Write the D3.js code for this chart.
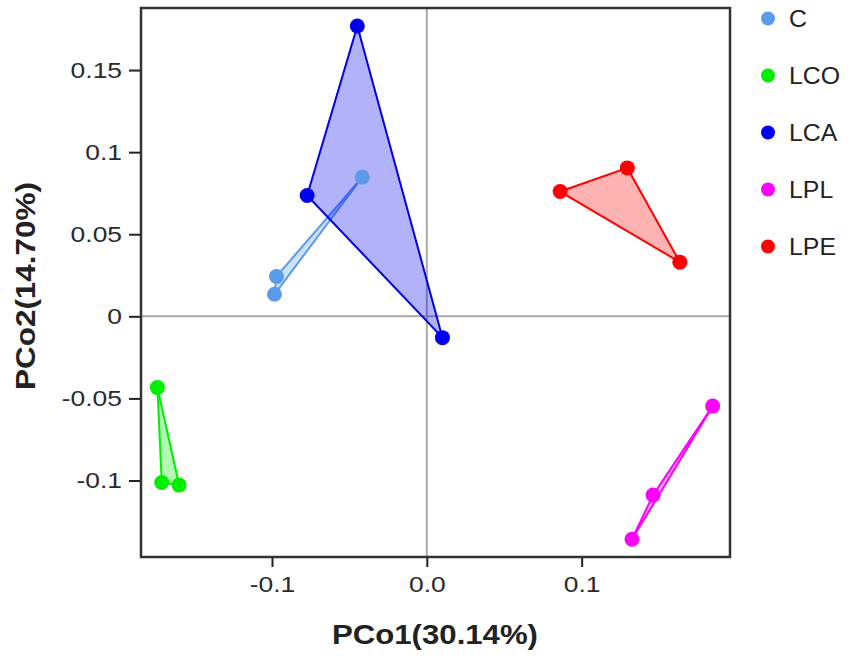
<!doctype html>
<html lang="en">
<head>
<meta charset="utf-8">
<title>PCoA</title>
<script src="https://d3js.org/d3.v7.min.js"></script>
<style>
  body { margin: 0; background: #fff; }
  text { font-family: "Liberation Sans", Arial, sans-serif; }
</style>
</head>
<body>
<div id="chart"></div>
<script>
// groups and their colours
const groups = ['C', 'LCO', 'LCA', 'LPL', 'LPE']
const colors = ['#5b9beb', '#00ee00', '#0000ee', '#ff00ff', '#ff0000']

// sample coordinates per group (PCo1, PCo2)
const pco1 = {
  C:   [-0.0417, -0.0971, -0.0984],
  LCO: [-0.1740, -0.1712, -0.1600],
  LCA: [-0.0449, -0.0773, 0.0101],
  LPL: [0.1846, 0.1461, 0.1325],
  LPE: [0.0861, 0.1295, 0.1634]
}
const pco2 = {
  C:   [0.0847, 0.0243, 0.0134],
  LCO: [-0.0434, -0.1012, -0.1028],
  LCA: [0.1768, 0.0736, -0.0130],
  LPL: [-0.0547, -0.1089, -0.1358],
  LPE: [0.0760, 0.0904, 0.0330]
}

const xTicks = [-0.1, 0, 0.1]
const xTickLabels = ['-0.1', '0.0', '0.1']
const yTicks = [-0.1, -0.05, 0, 0.05, 0.1, 0.15]
const yTickLabels = ['-0.1', '-0.05', '0', '0.05', '0.1', '0.15']

const xTitle = 'PCo1(30.14%)'
const yTitle = 'PCo2(14.70%)'

const width = 851, height = 661
const m = { left: 141, right: 121, top: 8, bottom: 104 }

const svg = d3.select('#chart').append('svg')
  .attr('width', width).attr('height', height)

const x = d3.scaleLinear().domain([-0.1846, 0.1958]).range([m.left, width - m.right])
const y = d3.scaleLinear().domain([-0.1466, 0.1878]).range([height - m.bottom, m.top])

// zero reference lines
svg.append('line')
  .attr('x1', x.range()[0]).attr('x2', x.range()[1])
  .attr('y1', y(0)).attr('y2', y(0))
  .attr('stroke', '#aaa').attr('stroke-width', 2)
svg.append('line')
  .attr('x1', x(0)).attr('x2', x(0))
  .attr('y1', y.range()[0]).attr('y2', y.range()[1])
  .attr('stroke', '#aaa').attr('stroke-width', 2)

// hulls
const data = groups.map((g, i) => ({
  name: g,
  color: colors[i],
  pts: pco1[g].map((v, j) => [v, pco2[g][j]])
}))

svg.append('g').selectAll('path')
  .data(data)
  .join('path')
  .attr('d', d => {
    const hull = d3.polygonHull(d.pts.map(p => [x(p[0]), y(p[1])]))
    return 'M' + hull.join('L') + 'Z'
  })
  .attr('fill', d => d.color)
  .attr('fill-opacity', 0.3)
  .attr('stroke', d => d.color)
  .attr('stroke-width', 2)
  .attr('stroke-linejoin', 'round')

// points
svg.append('g').selectAll('g')
  .data(data)
  .join('g')
  .attr('fill', d => d.color)
  .selectAll('circle')
  .data(d => d.pts)
  .join('circle')
  .attr('cx', p => x(p[0]))
  .attr('cy', p => y(p[1]))
  .attr('r', 7.5)

// axes
const xAxis = svg.append('g')
  .attr('transform', `translate(0,${y.range()[0]})`)
  .call(d3.axisBottom(x).tickValues(xTicks).tickFormat((d, i) => xTickLabels[i])
    .tickSize(10).tickPadding(9).tickSizeOuter(0))
const yAxis = svg.append('g')
  .attr('transform', `translate(${x.range()[0]},0)`)
  .call(d3.axisLeft(y).tickValues(yTicks).tickFormat((d, i) => yTickLabels[i])
    .tickSize(12).tickPadding(7).tickSizeOuter(0))

;[xAxis, yAxis].forEach(a => {
  a.select('.domain').remove()
  a.selectAll('line').attr('stroke', '#222').attr('stroke-width', 2)
  a.selectAll('text').attr('font-size', 22).attr('fill', '#2a2a2a')
    .attr('font-family', '"Liberation Sans", Arial, sans-serif')
    // the source picture is a bit wider than tall, stretch labels to match
    .each(function () {
      const w = this.getComputedTextLength()
      d3.select(this).attr('textLength', w * 1.2).attr('lengthAdjust', 'spacingAndGlyphs')
    })
})

// frame
svg.append('rect')
  .attr('x', x.range()[0]).attr('y', y.range()[1])
  .attr('width', x.range()[1] - x.range()[0])
  .attr('height', y.range()[0] - y.range()[1])
  .attr('fill', 'none').attr('stroke', '#333').attr('stroke-width', 2.5)

// titles
svg.append('text')
  .attr('x', 435).attr('y', 644)
  .attr('text-anchor', 'middle')
  .attr('font-size', 27).attr('font-weight', 'bold').attr('fill', '#222')
  .attr('textLength', 206).attr('lengthAdjust', 'spacingAndGlyphs')
  .text(xTitle)
svg.append('text')
  .attr('transform', 'translate(35,286) rotate(-90)')
  .attr('text-anchor', 'middle')
  .attr('font-size', 27).attr('font-weight', 'bold').attr('fill', '#222')
  .attr('textLength', 208).attr('lengthAdjust', 'spacingAndGlyphs')
  .text(yTitle)

// legend
const legend = svg.append('g').selectAll('g')
  .data(data)
  .join('g')
  .attr('transform', (d, i) => `translate(768,${18.5 + i * 57})`)
legend.append('circle').attr('r', 7).attr('fill', d => d.color)
legend.append('text')
  .attr('x', 21).attr('dy', '0.36em')
  .attr('font-size', 23).attr('fill', '#222')
  .each(function (d) {
    const t = d3.select(this).text(d.name)
    t.attr('textLength', this.getComputedTextLength() * 1.08).attr('lengthAdjust', 'spacingAndGlyphs')
  })
</script>
</body>
</html>
